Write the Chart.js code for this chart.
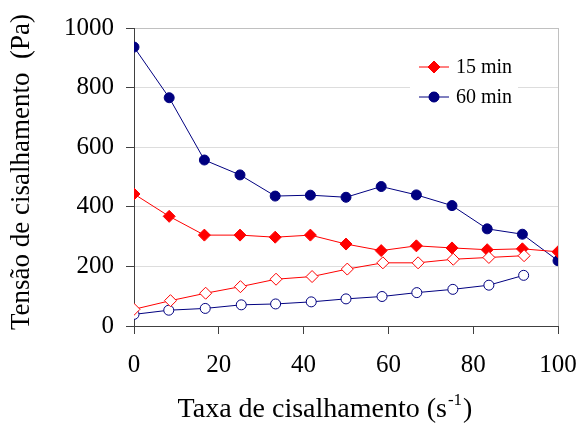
<!DOCTYPE html>
<html>
<head>
<meta charset="utf-8">
<script src="https://cdn.jsdelivr.net/npm/chart.js@4.4.0/dist/chart.umd.min.js"></script>
<style>
  html, body { margin: 0; padding: 0; background: #fff; }
  canvas { display: block; }
</style>
</head>
<body>
<canvas id="rheoChart" width="579" height="423"></canvas>
<script>
// shear rate for the down curves (filled markers)
const rateDown = [0, 8.3, 16.6, 25, 33.3, 41.6, 50, 58.3, 66.6, 75, 83.3, 91.6, 100];
const stress15Down = [443, 368, 305, 305, 298, 305, 275, 253, 269, 262, 256, 259, 249];
const stress60Down = [936, 766, 557, 507, 436, 439, 432, 468, 440, 404, 326, 308, 219];

// shear rate for the up curves (open markers)
const rateUp15 = [0, 8.6, 16.9, 25.1, 33.5, 42, 50.3, 58.7, 67, 75.3, 83.7, 92];
const stress15Up = [56, 85, 110, 132, 157, 166, 191, 212, 212, 224, 230, 236];
const rateUp60 = [0, 8.2, 16.8, 25.3, 33.4, 41.8, 50, 58.5, 66.7, 75.2, 83.7, 91.9];
const stress60Up = [39, 53, 59, 71, 74, 81, 91, 99, 112, 123, 137, 170];

const legendLabels = ["15 min", "60 min"];
const xTicks = [0, 20, 40, 60, 80, 100];
const yTitle = "Tensão de cisalhamento  (Pa)";
const xTitle = ["Taxa de cisalhamento (s", "-1", ")"];

const RED = "#ff0000";
const NAVY = "#000080";
const FONT = "'Liberation Serif', 'Times New Roman', serif";

const toPoints = (xs, ys) => xs.map((x, i) => ({ x: x, y: ys[i] }));

const series = (xs, ys, color, style, filled, radius) => ({
    data: toPoints(xs, ys),
    showLine: true,
    borderColor: color,
    borderWidth: 1,
    pointStyle: style,
    pointRadius: radius,
    pointHoverRadius: radius,
    pointBackgroundColor: filled ? color : "#ffffff",
    pointBorderColor: color,
    pointBorderWidth: 1,
});

// legend box with line + marker, sitting over the grid
const legendPlugin = {
    id: "lineLegend",
    afterDatasetsDraw(chart) {
        const ctx = chart.ctx;
        ctx.save();
        ctx.fillStyle = "#ffffff";
        ctx.fillRect(410, 50, 108, 62);
        const items = [
            { label: legendLabels[0], color: RED, style: "rectRot", r: 6, y: 67 },
            { label: legendLabels[1], color: NAVY, style: "circle", r: 5, y: 97 },
        ];
        items.forEach((it) => {
            ctx.strokeStyle = it.color;
            ctx.lineWidth = 1;
            ctx.beginPath();
            ctx.moveTo(419, it.y);
            ctx.lineTo(449, it.y);
            ctx.stroke();
            ctx.fillStyle = it.color;
            Chart.helpers.drawPoint(ctx, { pointStyle: it.style, radius: it.r, borderWidth: 1 }, 434, it.y);
            ctx.fill();
            ctx.fillStyle = "#000000";
            ctx.font = "20px " + FONT;
            ctx.textBaseline = "middle";
            ctx.fillText(it.label, 456, it.y + 1);
        });
        ctx.restore();
    },
};

// axis titles (x title has a superscript)
const titlesPlugin = {
    id: "axisTitles",
    afterDraw(chart) {
        const ctx = chart.ctx;
        ctx.save();
        ctx.fillStyle = "#000000";

        // y title, rotated
        ctx.translate(22, 172);
        ctx.rotate(-Math.PI / 2);
        ctx.font = "27px " + FONT;
        ctx.textAlign = "center";
        ctx.textBaseline = "middle";
        ctx.fillText(yTitle, 0, 0);
        ctx.setTransform(1, 0, 0, 1, 0, 0);

        // x title
        ctx.textAlign = "left";
        ctx.textBaseline = "alphabetic";
        ctx.font = "28px " + FONT;
        const w1 = ctx.measureText(xTitle[0]).width;
        const w3 = ctx.measureText(xTitle[2]).width;
        ctx.font = "17px " + FONT;
        const w2 = ctx.measureText(xTitle[1]).width;
        let x = 324 - (w1 + w2 + w3) / 2;
        const y = 417;
        ctx.font = "28px " + FONT;
        ctx.fillText(xTitle[0], x, y);
        x += w1 + 1;
        ctx.font = "17px " + FONT;
        ctx.fillText(xTitle[1], x, y - 12);
        x += w2 + 1;
        ctx.font = "28px " + FONT;
        ctx.fillText(xTitle[2], x, y);
        ctx.restore();
    },
};

const ctx = document.getElementById("rheoChart");

const config = {
    type: "scatter",
    data: {
        datasets: [
            series(rateUp15, stress15Up, RED, "rectRot", false, 6),
            series(rateUp60, stress60Up, NAVY, "circle", false, 5),
            series(rateDown, stress15Down, RED, "rectRot", true, 6),
            series(rateDown, stress60Down, NAVY, "circle", true, 5),
        ],
    },
    options: {
        responsive: false,
        animation: false,
        layout: { padding: { top: 28, right: 21, left: 0, bottom: 0 } },
        plugins: {
            legend: { display: false },
            tooltip: { enabled: false },
        },
        scales: {
            x: {
                type: "linear",
                min: 0,
                max: 100,
                afterBuildTicks: (axis) => {
                    axis.ticks = xTicks.map((v) => ({ value: v }));
                },
                afterFit: (axis) => {
                    axis.height = 97;
                    axis.paddingLeft = 0;
                    axis.paddingRight = 0;
                },
                border: { color: "#404040", width: 1 },
                grid: {
                    color: (c) => (c.tick && c.tick.value === 100 ? "#c0c0c0" : "rgba(0,0,0,0)"),
                    tickColor: "#404040",
                    tickLength: 8,
                },
                ticks: {
                    color: "#000000",
                    font: { family: FONT, size: 25 },
                    padding: 16,
                    maxRotation: 0,
                    callback: (v) => String(v),
                },
            },
            y: {
                min: 0,
                max: 1000,
                afterFit: (axis) => {
                    axis.width = 134;
                    axis.paddingTop = 0;
                    axis.paddingBottom = 0;
                },
                border: { color: "#404040", width: 1 },
                grid: {
                    color: (c) => (c.tick && c.tick.value === 0 ? "rgba(0,0,0,0)" : (c.tick && c.tick.value === 1000 ? "#c0c0c0" : "#dddddd")),
                    tickColor: "#404040",
                    tickLength: 8,
                },
                ticks: {
                    stepSize: 200,
                    color: "#000000",
                    font: { family: FONT, size: 25 },
                    padding: 12,
                    callback: (v) => String(v),
                },
            },
        },
    },
    plugins: [legendPlugin, titlesPlugin],
};

const rheoChart = new Chart(ctx, config);
</script>
</body>
</html>
